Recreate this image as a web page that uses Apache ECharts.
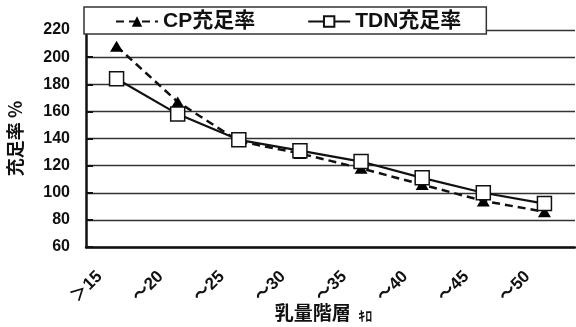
<!DOCTYPE html>
<html><head><meta charset="utf-8">
<script src="https://cdn.jsdelivr.net/npm/echarts@6/dist/echarts.min.js"></script>
<style>html,body{margin:0;padding:0;background:#fff}#c{width:576px;height:327px}</style>
</head><body><div id="c"></div>
<script>
const categories = ['＞15','～20','～25','～30','～35','～40','～45','～50'];
const cpValues = [208, 167, 138, 129, 118, 106, 94, 86];
const tdnValues = [184, 158, 139, 131, 123, 111, 100, 92];
const seriesNames = ['CP充足率', 'TDN充足率'];
const yMin = 60, yMax = 220, yStep = 20;

const numFont = '"Liberation Sans",Arial,sans-serif';
const cjkFont = '"Noto Sans CJK JP","Noto Sans",sans-serif';

const chart = echarts.init(document.getElementById('c'));
chart.setOption({
  animation: false,
  backgroundColor: '#fff',
  grid: {left: 86, right: 1, top: 30, bottom: 80, containLabel: false, outerBoundsMode: 'none'},
  legend: {
    left: 84, top: 7,
    padding: [4, 25, 2, 31],
    itemGap: 52,
    itemWidth: 42, itemHeight: 13,
    backgroundColor: '#fff',
    borderColor: '#333', borderWidth: 1.5,
    textStyle: {fontSize: 21, fontWeight: 'bold', color: '#111', fontFamily: '"Liberation Sans",' + cjkFont},
    data: seriesNames
  },
  xAxis: {
    type: 'category', data: categories, boundaryGap: true,
    axisLine: {lineStyle: {color: '#111', width: 2.5}},
    axisTick: {inside: true, length: 6, lineStyle: {color: '#111', width: 2}},
    axisLabel: {rotate: 45, margin: 10, padding: [0, 24, 0, 0], fontSize: 17, fontWeight: 'bold', color: '#111', fontFamily: numFont + ',' + cjkFont},
    name: '{a|乳量階層} {b|ｷﾛ}', nameLocation: 'middle', nameGap: 66, nameMoveOverlap: false,
    nameTextStyle: {verticalAlign: 'middle', padding: [0, 14, 0, 0], rich: {
      a: {fontSize: 19, fontWeight: 'bold', color: '#111', fontFamily: cjkFont},
      b: {fontSize: 14, fontWeight: 'bold', color: '#111', fontFamily: cjkFont, padding: [6, 0, 0, 4]}
    }}
  },
  yAxis: {
    type: 'value', min: yMin, max: yMax, interval: yStep,
    axisLine: {show: true, lineStyle: {color: '#111', width: 2.5}},
    axisTick: {show: true, inside: true, length: 7, lineStyle: {color: '#111', width: 2}},
    splitLine: {lineStyle: {color: '#333', width: 1.3}},
    axisLabel: {margin: 16, fontSize: 16, fontWeight: 'bold', color: '#111', fontFamily: numFont},
    name: '充足率 %', nameLocation: 'middle', nameGap: 62, nameRotate: 90, nameMoveOverlap: false,
    nameTextStyle: {fontSize: 18, fontWeight: 'bold', color: '#111', fontFamily: cjkFont}
  },
  series: [
    {
      name: seriesNames[0], type: 'line', data: cpValues,
      symbol: 'triangle', symbolSize: [13, 11],
      itemStyle: {color: '#000', borderColor: '#000', borderWidth: 0},
      lineStyle: {color: '#111', width: 2.5, type: [8, 5]}
    },
    {
      name: seriesNames[1], type: 'line', data: tdnValues,
      symbol: 'rect', symbolSize: [14, 14],
      itemStyle: {color: '#fff', borderColor: '#111', borderWidth: 1.5},
      lineStyle: {color: '#111', width: 2.2}
    }
  ]
});
</script></body></html>
